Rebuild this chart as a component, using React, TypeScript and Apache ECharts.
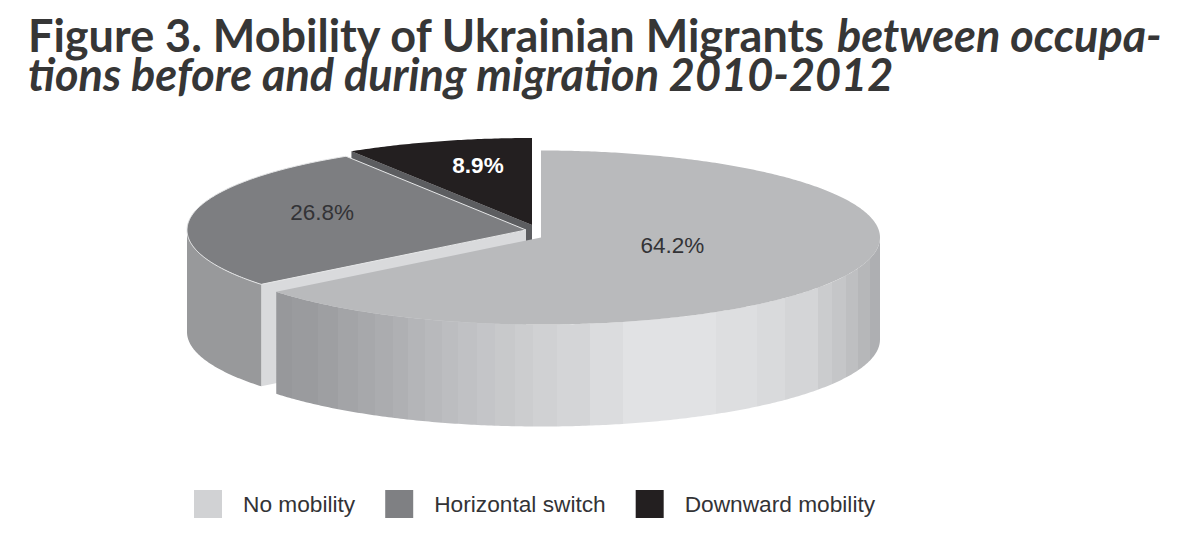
import React, { useEffect, useRef } from "react";
import * as echarts from "echarts";

const titleLine1Plain = "Figure 3. Mobility of Ukrainian Migrants ";
const titleLine1Italic = "between occupa-";
const titleLine2Italic = "tions before and during migration 2010-2012";

const categories = ["No mobility", "Horizontal switch", "Downward mobility"];
const shares = [64.2, 26.8, 8.9];
const sliceColors = ["#b9babc", "#7d7e81", "#231f20"];
const legendColors = ["#d1d2d4", "#7f8083", "#231f20"];
const labelColors = ["#333336", "#333336", "#ffffff"];

// geometry of the tilted disc
const radiusX = [339, 339, 340];
const RY = 87;
const DEPTH = 102;
const apexX = [541, 526, 532];
const apexY = [237.5, 230, 225];
const labelRadius = [0.43, 0.61, 0.575];
const labelLift = [8, 9, 11];

// banding of the main slice wall: [x, colour]
const wallBands: [number, string][] = [
  [276, "#97989b"], [292, "#9a9b9e"], [318, "#9e9fa2"], [338, "#a3a4a7"], [358, "#a7a8ab"],
  [375, "#abacaf"], [393, "#afb0b3"], [408, "#b4b5b8"], [425, "#b8b9bc"], [442, "#bcbdc0"],
  [458, "#c0c1c4"], [477, "#c4c5c8"], [495, "#c8c9cb"], [515, "#cccdcf"], [533, "#d0d1d3"],
  [557, "#d4d5d7"], [590, "#dbdcde"], [623, "#e1e2e4"], [716, "#dddee0"], [757, "#d9dadc"],
  [785, "#d4d5d7"], [818, "#cbccce"], [832, "#c5c6c8"], [846, "#bebfc1"], [858, "#b6b7b9"],
  [870, "#aeafb2"],
];

const total = shares.reduce((a, b) => a + b, 0);
const toRad = (share: number) => (share / total) * Math.PI * 2;

function arcPoints(cx: number, cy: number, rx: number, a0: number, a1: number) {
  const n = Math.max(2, Math.ceil(Math.abs(a1 - a0) / 0.01));
  const pts: number[][] = [];
  for (let i = 0; i <= n; i++) {
    const a = a0 + ((a1 - a0) * i) / n;
    pts.push([cx + rx * Math.sin(a), cy - RY * Math.cos(a)]);
  }
  return pts;
}

function wallGradient(x0: number, x1: number) {
  const span = x1 - x0;
  const stops: { offset: number; color: string }[] = [];
  wallBands.forEach(([x, color], i) => {
    const next = i + 1 < wallBands.length ? wallBands[i + 1][0] : x1;
    stops.push({ offset: Math.max(0, (x - x0) / span), color });
    stops.push({ offset: Math.min(1, (next - x0) / span), color });
  });
  return new echarts.graphic.LinearGradient(x0, 0, x1, 0, stops, true);
}

function renderSlice(index: number) {
  return (_params: any, api: any) => {
    const value = api.value(0);
    const before = shares.slice(0, index).reduce((a, b) => a + b, 0);
    const a0 = toRad(before);
    const a1 = a0 + toRad(value);
    const cx = apexX[index];
    const cy = apexY[index];
    const rx = radiusX[index];
    const top = arcPoints(cx, cy, rx, a0, a1);
    const children: any[] = [];
    const down = (p: number[]) => [p[0], p[1] + DEPTH];

    // outer wall: only the part that faces the viewer
    const w0 = Math.max(a0, Math.PI / 2);
    const w1 = Math.min(a1, (Math.PI * 3) / 2);
    if (w1 > w0) {
      const arc = arcPoints(cx, cy, rx, w0, w1);
      children.push({
        type: "polygon",
        shape: { points: [...arc, ...arc.slice().reverse().map(down)] },
        style:
          index === 0
            ? { fill: wallGradient(arc[arc.length - 1][0], arc[0][0]) }
            : { fill: "#98999b" },
      });
    }
    // cut faces that turn toward the viewer
    if (index === 1) {
      const tip = top[0];
      children.unshift({
        type: "polygon",
        shape: { points: [[cx, cy], tip, down(tip), [cx, cy + DEPTH]] },
        style: { fill: "#d9dadc" },
      });
    }
    if (index === 2) {
      const tip = top[0];
      children.unshift({
        type: "polygon",
        shape: { points: [[cx, cy], tip, down(tip), [cx, cy + 20]] },
        style: { fill: "#5c5d60" },
      });
    }
    // top face
    children.push({
      type: "polygon",
      shape: { points: [[cx, cy], ...top] },
      style:
        index === 1
          ? { fill: sliceColors[index], stroke: "#e6e7e8", lineWidth: 1 }
          : { fill: sliceColors[index] },
    });
    // value label
    const mid = (a0 + a1) / 2;
    children.push({
      type: "text",
      x: cx + rx * labelRadius[index] * Math.sin(mid),
      y: cy - RY * labelRadius[index] * Math.cos(mid) - labelLift[index],
      style: {
        text: `${value.toFixed(1)}%`,
        fill: labelColors[index],
        font: `${index === 2 ? "bold " : ""}22.5px "Liberation Sans", Arial, sans-serif`,
        align: "center",
        verticalAlign: "middle",
      },
    });
    return { type: "group", children };
  };
}

export default function App() {
  const ref = useRef<HTMLDivElement>(null);
  useEffect(() => {
    const chart = echarts.init(ref.current!, undefined, { renderer: "svg" });
    chart.setOption({
      animation: false,
      backgroundColor: "#ffffff",
      title: {
        left: 23,
        top: 10,
        text: `{a|${titleLine1Plain}}{b|${titleLine1Italic}}\n{b|${titleLine2Italic}}`,
        textStyle: {
          rich: {
            a: { fontFamily: "Lato", fontWeight: "bold", fontSize: 45, lineHeight: 39, color: "#363636" },
            b: { fontFamily: "Lato", fontWeight: "bold", fontStyle: "italic", fontSize: 45, lineHeight: 39, color: "#363636" },
          },
        },
      },
      legend: {
        left: 189,
        top: 485,
        icon: "rect",
        itemWidth: 28,
        itemHeight: 28,
        itemGap: 30,
        data: categories,
        selectedMode: false,
        textStyle: {
          fontFamily: '"Liberation Sans", Arial, sans-serif',
          fontSize: 22.7,
          color: "#333336",
          padding: [0, 0, 0, 16],
        },
      },
      series: [2, 1, 0].map((i) => ({
        type: "custom",
        name: categories[i],
        coordinateSystem: "none",
        itemStyle: { color: legendColors[i] },
        data: [[shares[i]]],
        renderItem: renderSlice(i),
      })),
    });
    return () => chart.dispose();
  }, []);
  return <div ref={ref} style={{ position: "fixed", left: 0, top: 0, width: 1180, height: 558 }} />;
}
